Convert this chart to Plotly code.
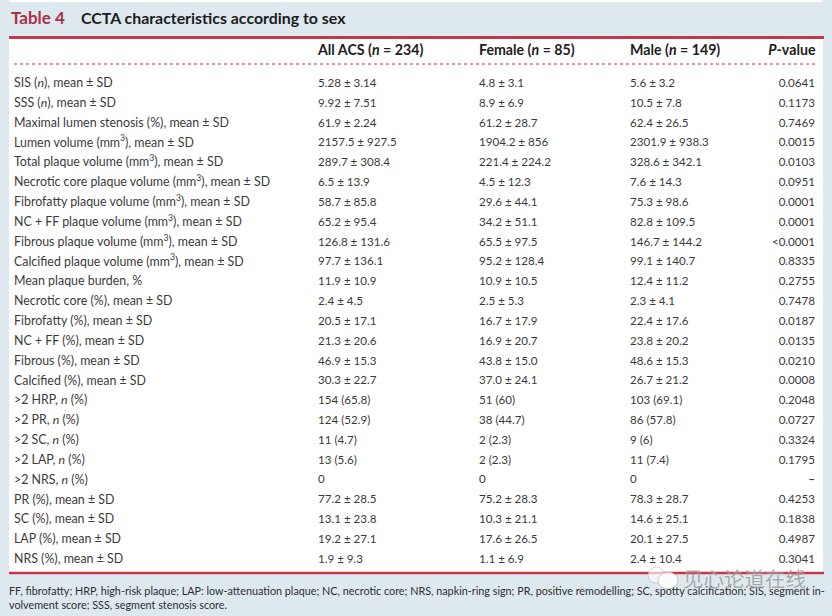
# -*- coding: utf-8 -*-
"""CCTA characteristics according to sex, text marks placed on numeric axes."""
import plotly.graph_objects as go

col_titles = ["<b>All ACS (<i>n</i> = 234)</b>", "<b>Female (<i>n</i> = 85)</b>",
              "<b>Male (<i>n</i> = 149)</b>", "<b><i>P</i>-value</b>"]

labels = [
    "SIS (<i>n</i>), mean ± SD",
    "SSS (<i>n</i>), mean ± SD",
    "Maximal lumen stenosis (%), mean ± SD",
    "Lumen volume (mm<sup>3</sup>), mean ± SD",
    "Total plaque volume (mm<sup>3</sup>), mean ± SD",
    "Necrotic core plaque volume (mm<sup>3</sup>), mean ± SD",
    "Fibrofatty plaque volume (mm<sup>3</sup>), mean ± SD",
    "NC + FF plaque volume (mm<sup>3</sup>), mean ± SD",
    "Fibrous plaque volume (mm<sup>3</sup>), mean ± SD",
    "Calcified plaque volume (mm<sup>3</sup>), mean ± SD",
    "Mean plaque burden, %",
    "Necrotic core (%), mean ± SD",
    "Fibrofatty (%), mean ± SD",
    "NC + FF (%), mean ± SD",
    "Fibrous (%), mean ± SD",
    "Calcified (%), mean ± SD",
    ">2 HRP, <i>n</i> (%)",
    ">2 PR, <i>n</i> (%)",
    ">2 SC, <i>n</i> (%)",
    ">2 LAP, <i>n</i> (%)",
    ">2 NRS, <i>n</i> (%)",
    "PR (%), mean ± SD",
    "SC (%), mean ± SD",
    "LAP (%), mean ± SD",
    "NRS (%), mean ± SD",
]

all_acs = [
    "5.28 ± 3.14", "9.92 ± 7.51", "61.9 ± 2.24", "2157.5 ± 927.5", "289.7 ± 308.4",
    "6.5 ± 13.9", "58.7 ± 85.8", "65.2 ± 95.4", "126.8 ± 131.6", "97.7 ± 136.1",
    "11.9 ± 10.9", "2.4 ± 4.5", "20.5 ± 17.1", "21.3 ± 20.6", "46.9 ± 15.3",
    "30.3 ± 22.7", "154 (65.8)", "124 (52.9)", "11 (4.7)", "13 (5.6)",
    "0", "77.2 ± 28.5", "13.1 ± 23.8", "19.2 ± 27.1", "1.9 ± 9.3",
]

female = [
    "4.8 ± 3.1", "8.9 ± 6.9", "61.2 ± 28.7", "1904.2 ± 856", "221.4 ± 224.2",
    "4.5 ± 12.3", "29.6 ± 44.1", "34.2 ± 51.1", "65.5 ± 97.5", "95.2 ± 128.4",
    "10.9 ± 10.5", "2.5 ± 5.3", "16.7 ± 17.9", "16.9 ± 20.7", "43.8 ± 15.0",
    "37.0 ± 24.1", "51 (60)", "38 (44.7)", "2 (2.3)", "2 (2.3)",
    "0", "75.2 ± 28.3", "10.3 ± 21.1", "17.6 ± 26.5", "1.1 ± 6.9",
]

male = [
    "5.6 ± 3.2", "10.5 ± 7.8", "62.4 ± 26.5", "2301.9 ± 938.3", "328.6 ± 342.1",
    "7.6 ± 14.3", "75.3 ± 98.6", "82.8 ± 109.5", "146.7 ± 144.2", "99.1 ± 140.7",
    "12.4 ± 11.2", "2.3 ± 4.1", "22.4 ± 17.6", "23.8 ± 20.2", "48.6 ± 15.3",
    "26.7 ± 21.2", "103 (69.1)", "86 (57.8)", "9 (6)", "11 (7.4)",
    "0", "78.3 ± 28.7", "14.6 ± 25.1", "20.1 ± 27.5", "2.4 ± 10.4",
]

p_value = [
    "0.0641", "0.1173", "0.7469", "0.0015", "0.0103", "0.0951", "0.0001", "0.0001",
    "<0.0001", "0.8335", "0.2755", "0.7478", "0.0187", "0.0135", "0.0210", "0.0008",
    "0.2048", "0.0727", "0.3324", "0.1795", "<b>–</b>", "0.4253", "0.1838", "0.4987", "0.3041",
]

footnote = ("FF, fibrofatty; HRP, high-risk plaque; LAP: low-attenuation plaque; NC, necrotic core; "
            "NRS, napkin-ring sign; PR, positive remodelling; SC, spotty calcification; SIS, segment in-"
            "<br>volvement score; SSS, segment stenosis score.")

W, H = 832, 616
FONT = "Lato, 'Open Sans', sans-serif"
INK = "#3a3a3a"
DARK = "#1d1d1d"
PANEL = "#dde9ee"
RED = "#c8354b"
ROW0, PITCH = 84, 19.83  # pixel centre of first row, row pitch
HEADER_ROW = (51 - ROW0) / PITCH

rows = list(range(len(labels)))
fig = go.Figure()


def add_column(x, texts, size, position="middle right"):
    fig.add_trace(go.Scatter(
        x=[x] * len(texts), y=rows, text=texts, mode="text",
        textposition=position, hoverinfo="skip", showlegend=False,
        cliponaxis=False, textfont=dict(family=FONT, size=size, color=INK),
    ))


add_column(14, labels, 12.4)
add_column(318, all_acs, 11.6)
add_column(479, female, 11.6)
add_column(630, male, 11.6)
add_column(815, p_value, 11.6, "middle left")

fig.add_trace(go.Scatter(
    x=[318, 479, 630, 815.5], y=[HEADER_ROW] * 4, text=col_titles, mode="text",
    textposition=["middle right"] * 3 + ["middle left"],
    hoverinfo="skip", showlegend=False, cliponaxis=False,
    textfont=dict(family=FONT, size=14.2, color=DARK),
))


def px(x):
    return x / W


def py(y):
    return 1 - y / H


def paper(**kw):
    return dict(xref="paper", yref="paper", **kw)


shapes = [
    # white scan edge at the top, white card behind the table, rules
    paper(type="rect", x0=px(9), x1=px(823), y0=py(2), y1=py(0),
          fillcolor="white", line_width=0, layer="below"),
    paper(type="rect", x0=px(9), x1=px(823), y0=py(574), y1=py(39),
          fillcolor="white", line_width=0, layer="below"),
    paper(type="line", x0=px(9), x1=px(824), y0=py(37.5), y1=py(37.5),
          line=dict(color=RED, width=3)),
    paper(type="line", x0=px(14), x1=px(816), y0=py(64), y1=py(64),
          line=dict(color=RED, width=1, dash="dot")),
    paper(type="line", x0=px(9), x1=px(824), y0=py(573), y1=py(573),
          line=dict(color=RED, width=2.5)),
    # watermark icon
    paper(type="circle", x0=px(648), x1=px(664), y0=py(583), y1=py(567),
          fillcolor="rgba(255,255,255,0.65)", line=dict(color="rgba(170,170,170,0.5)", width=1)),
    paper(type="circle", x0=px(658), x1=px(678), y0=py(589), y1=py(572),
          fillcolor="rgba(255,255,255,0.85)", line=dict(color="rgba(170,170,170,0.6)", width=1)),
]

annotations = [
    dict(text="<b>Table 4</b>", x=px(8.5), y=py(17.5), xanchor="left", yanchor="middle",
         font=dict(family=FONT, size=17, color="#a83248")),
    dict(text="<b>CCTA characteristics according to sex</b>", x=px(79), y=py(17.5),
         xanchor="left", yanchor="middle", font=dict(family=FONT, size=15.9, color=DARK)),
    dict(text=footnote, x=px(7), y=py(597.5), xanchor="left", yanchor="middle", align="left",
         font=dict(family=FONT, size=10.8, color="#2e2e2e")),
    dict(text="见心论道在线", x=px(681), y=py(578), xanchor="left", yanchor="middle",
         font=dict(family="Noto Sans CJK SC", size=20.5, color="rgba(125,125,125,0.65)",
                   shadow="0 0 2px white")),
]

fig.update_layout(
    width=W, height=H,
    autosize=False,
    margin=dict(l=0, r=0, t=0, b=0),
    paper_bgcolor=PANEL,
    plot_bgcolor="rgba(0,0,0,0)",
    shapes=shapes,
    annotations=[paper(showarrow=False, **a) for a in annotations],
    xaxis=dict(range=[0, W], visible=False, fixedrange=True),
    yaxis=dict(range=[(H - ROW0) / PITCH, -ROW0 / PITCH], visible=False, fixedrange=True),
)

fig.write_html("out.html", config=dict(displayModeBar=False),
               post_script="document.body.style.margin='0';document.body.style.overflow='hidden';")
